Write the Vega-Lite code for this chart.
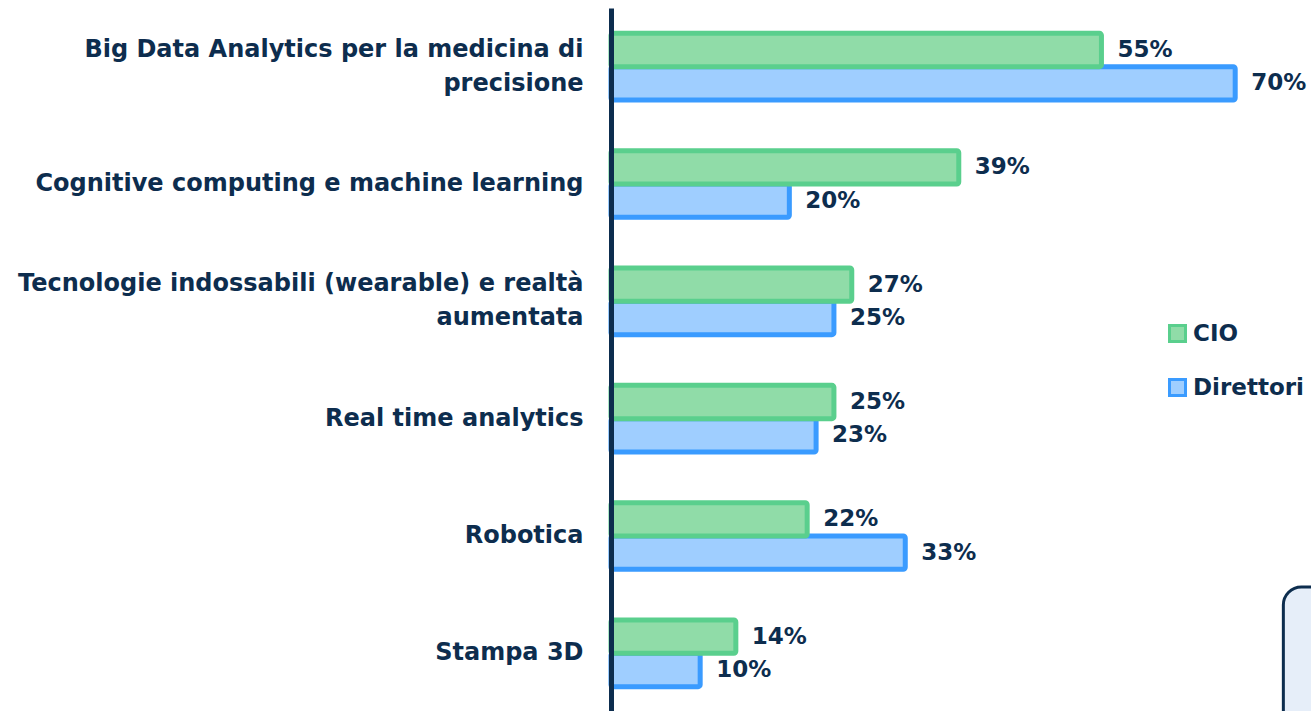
{
  "$schema": "https://vega.github.io/schema/vega-lite/v6.json",
  "width": 700,
  "height": 704,
  "autosize": {"type": "none"},
  "padding": {"left": 611, "top": 8, "right": 0, "bottom": 0},
  "background": "white",
  "config": {"view": {"stroke": null}, "font": "DejaVu Sans"},
  "datasets": {
    "bars": [
      {"cat": "Big Data Analytics per la medicina di|precisione", "serie": "Direttori", "v": 0.70},
      {"cat": "Big Data Analytics per la medicina di|precisione", "serie": "CIO", "v": 0.55},
      {"cat": "Cognitive computing e machine learning", "serie": "Direttori", "v": 0.20},
      {"cat": "Cognitive computing e machine learning", "serie": "CIO", "v": 0.39},
      {"cat": "Tecnologie indossabili (wearable) e realtà|aumentata", "serie": "Direttori", "v": 0.25},
      {"cat": "Tecnologie indossabili (wearable) e realtà|aumentata", "serie": "CIO", "v": 0.27},
      {"cat": "Real time analytics", "serie": "Direttori", "v": 0.23},
      {"cat": "Real time analytics", "serie": "CIO", "v": 0.25},
      {"cat": "Robotica", "serie": "Direttori", "v": 0.33},
      {"cat": "Robotica", "serie": "CIO", "v": 0.22},
      {"cat": "Stampa 3D", "serie": "Direttori", "v": 0.10},
      {"cat": "Stampa 3D", "serie": "CIO", "v": 0.14}
    ],
    "box": [{"x": 0.754, "x2": 0.95, "y": 0.1776, "y2": -0.2}]
  },
  "layer": [
    {
      "data": {"name": "box"},
      "mark": {"type": "rect", "fill": "#E6EEF9", "stroke": "#0D2D4E", "strokeWidth": 3, "cornerRadius": 18, "clip": false},
      "encoding": {
        "x": {"field": "x", "type": "quantitative", "scale": {"domain": [0, 0.785], "nice": false}, "axis": null},
        "x2": {"field": "x2"},
        "y": {"field": "y", "type": "quantitative", "scale": {"domain": [0, 1], "nice": false, "zero": false}, "axis": null},
        "y2": {"field": "y2"}
      }
    },
    {
      "data": {"name": "bars"},
      "layer": [
        {
          "mark": {"type": "bar", "strokeWidth": 5, "cornerRadius": 2, "fillOpacity": 1, "strokeOpacity": 1},
          "encoding": {
            "y": {
              "field": "cat", "type": "nominal", "sort": null,
              "scale": {"paddingInner": 0.432, "paddingOuter": 0.216},
              "axis": {
                "title": null, "domainColor": "#0D2D4E", "domainWidth": 5, "ticks": false, "tickSize": 0,
                "labelPadding": 28, "labelFontSize": 24, "labelFont": "DejaVu Sans", "labelFontWeight": "bold",
                "labelColor": "#0D2D4E", "labelLimit": 700, "labelExpr": "split(datum.label, '|')",
                "labelLineHeight": 34, "zindex": 1, "grid": false,
                "labelOffset": {"condition": {"test": "indexof(datum.value, '|') >= 0", "value": -17}, "value": 0}
              }
            },
            "yOffset": {"field": "serie", "type": "nominal", "sort": ["CIO", "Direttori"], "scale": {"paddingInner": 0, "paddingOuter": 0}},
            "x": {"field": "v", "type": "quantitative", "stack": null, "scale": {"domain": [0, 0.785], "nice": false}, "axis": null},
            "color": {
              "field": "serie", "type": "nominal",
              "scale": {"domain": ["CIO", "Direttori"], "range": ["#90DCA8", "#9FCEFF"]},
              "legend": {"orient": "none", "legendX": 555, "legendY": 314, "title": null, "symbolType": "square", "symbolSize": 256, "symbolStrokeWidth": 3, "labelFontSize": 23, "labelFont": "DejaVu Sans", "labelFontWeight": "bold", "labelColor": "#0D2D4E", "labelOffset": 4, "rowPadding": 25, "padding": 0}
            },
            "stroke": {
              "field": "serie", "type": "nominal",
              "scale": {"domain": ["CIO", "Direttori"], "range": ["#5ACF8D", "#3A9BFF"]},
              "legend": {"orient": "none", "legendX": 555, "legendY": 314, "title": null, "symbolType": "square", "symbolSize": 256, "symbolStrokeWidth": 3, "labelFontSize": 23, "labelFont": "DejaVu Sans", "labelFontWeight": "bold", "labelColor": "#0D2D4E", "labelOffset": 4, "rowPadding": 25, "padding": 0}
            }
          }
        },
        {
          "mark": {"type": "text", "align": "left", "baseline": "middle", "dx": 16, "fontSize": 23, "font": "DejaVu Sans", "fontWeight": "bold", "color": "#0D2D4E"},
          "encoding": {
            "y": {"field": "cat", "type": "nominal", "sort": null},
            "yOffset": {"field": "serie", "type": "nominal", "sort": ["CIO", "Direttori"]},
            "x": {"field": "v", "type": "quantitative", "stack": null},
            "text": {"field": "v", "type": "quantitative", "format": ".0%"}
          }
        }
      ]
    }
  ],
  "resolve": {"scale": {"y": "independent"}}
}
